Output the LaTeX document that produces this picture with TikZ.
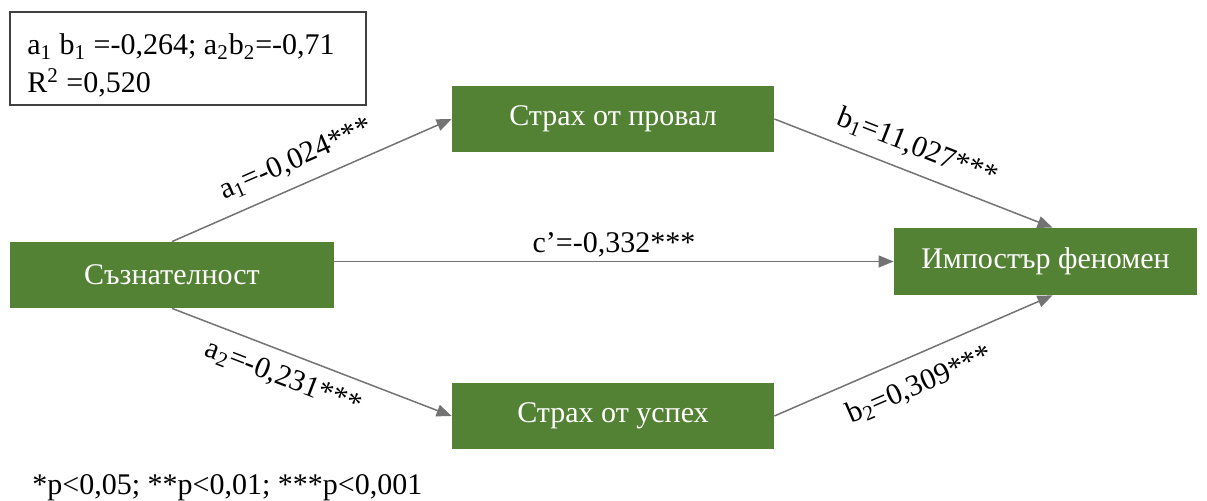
\documentclass[tikz,border=0pt]{standalone}
\usepackage{fontspec}
\setmainfont{Liberation Serif}
\usetikzlibrary{arrows.meta,calc}
\definecolor{boxgreen}{RGB}{84,130,53}
\definecolor{linegray}{RGB}{115,115,115}
\definecolor{frame}{RGB}{64,64,64}
\begin{document}
\begin{tikzpicture}[x=0.5pt,y=-0.5pt,
  gbox/.style={fill=boxgreen,text=white,inner sep=0pt,font=\fontsize{15}{18}\selectfont},
  conn/.style={draw=linegray,line width=0.75pt,-{Triangle[length=7.5pt,width=6pt]}},
  lbl/.style={font=\fontsize{15}{18}\selectfont,inner sep=6pt,text=black},
  every node/.style={font=\fontsize{15}{18}\selectfont}]
\useasboundingbox (0,0) rectangle (1207,501);
\node[gbox,minimum width=162pt,minimum height=33pt] (s) at (172,275) {Съзнателност};
\node[gbox,minimum width=161pt,minimum height=33pt] (p) at (613,119) {Страх от провал};
\node[gbox,minimum width=161pt,minimum height=33pt] (u) at (613,416) {Страх от успех};
\node[gbox,minimum width=151.5pt,minimum height=33.5pt] (i) at (1045.5,261.5) {Импостър феномен};
\node[draw=frame,line width=0.75pt,minimum width=178pt,minimum height=46.5pt,inner sep=0pt] (r) at (188,58.5) {};
\node[anchor=base west,inner sep=0pt] (r1) at (27,55) {a\textsubscript{1} b\textsubscript{1} =-0,264; a\textsubscript{2}b\textsubscript{2}=-0,71};
\node[anchor=base west,inner sep=0pt] (r2) at (27,93) {R\textsuperscript{2} =0,520};
\node[anchor=base west,inner sep=0pt] (fn) at (32,495) {*p<0,05; **p<0,01; ***p<0,001};
\draw[conn] (s.north) -- node[lbl,sloped,above,pos=0.48] {a\textsubscript{1}=-0,024***} (p.west);
\draw[conn] (p.east) -- node[lbl,sloped,above,pos=0.48] {b\textsubscript{1}=11,027***} ($(i.north)+(7,0)$);
\draw[conn] (s.east |- i.west) -- node[lbl,above,midway,inner sep=2pt] {c’=-0,332***} (i.west);
\draw[conn] (s.south) -- node[lbl,sloped,below,pos=0.43] {a\textsubscript{2}=-0,231***} (u.west);
\draw[conn] (u.east) -- node[lbl,sloped,below,pos=0.48,inner sep=8pt] {b\textsubscript{2}=0,309***} ($(i.south)+(7,0)$);
\end{tikzpicture}
\end{document}
